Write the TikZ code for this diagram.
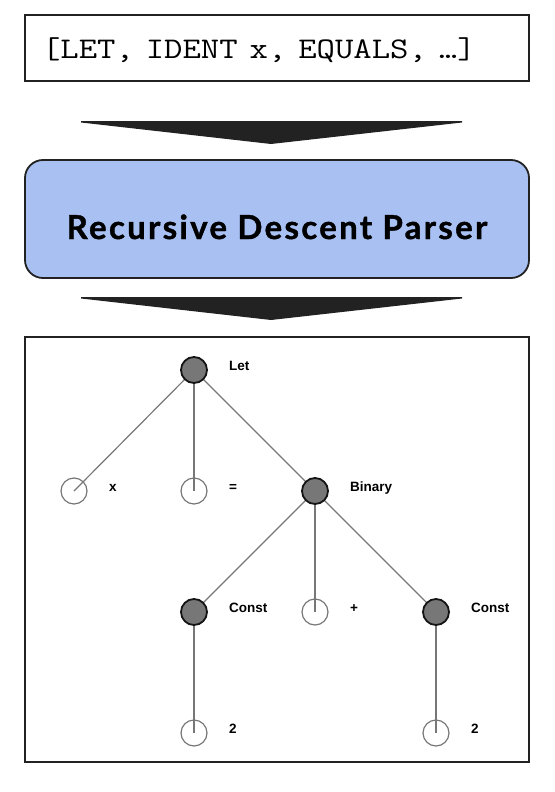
\documentclass[tikz,border=0pt]{standalone}
\usepackage{fontspec}
\usetikzlibrary{calc}
\setmainfont{Liberation Sans}
\newfontfamily\titlefont[LetterSpace=7,FakeBold=1.2]{Lato}
\definecolor{boxline}{HTML}{222222}
\definecolor{parserblue}{HTML}{A8C1F2}
\definecolor{nodefill}{HTML}{777777}
\definecolor{edgegray}{HTML}{777777}
\pgfdeclarelayer{bg}
\pgfsetlayers{bg,main}
\begin{document}
\begin{tikzpicture}[x=1pt,y=-1pt,
  tokbox/.style={draw=boxline,line width=2.2pt,minimum width=504pt,minimum height=66pt,inner sep=0pt,
    text width=470pt,align=left,
    font=\ttfamily\fontsize{30}{32}\selectfont,text height=20.6pt,text depth=0pt},
  parserbox/.style={draw=boxline,fill=parserblue,line width=1.8pt,rounded corners=18pt,
    minimum width=504pt,minimum height=118pt,inner sep=0pt,
    font=\titlefont\bfseries\fontsize{33}{35}\selectfont,text height=40pt,text depth=0pt},
  treebox/.style={draw=boxline,line width=2.4pt,minimum width=504pt,minimum height=425pt,inner sep=0pt},
  flowarrow/.style={fill=boxline,draw=none},
  lbl/.style={font=\bfseries\fontsize{13.5}{15}\selectfont,inner sep=0pt,anchor=base west},
  full/.style={circle,draw=black!92,line width=1.8pt,fill=nodefill,minimum size=26pt,inner sep=0pt,outer sep=0pt},
  empty/.style={circle,draw=edgegray,line width=1.2pt,minimum size=26pt,inner sep=0pt,outer sep=0pt},
  edge/.style={draw=edgegray,line width=1.2pt}]
\useasboundingbox (0,0) rectangle (554,792);

\node[tokbox] (tokens) at (277,48) {\scalebox{1.19}[1]{[LET, IDENT x, EQUALS, …]}};
\node[parserbox] (parser) at (277,219) {Recursive Descent Parser};
\node[treebox] (tree) at (277,549.5) {};

\coordinate (a1l) at (81,121);
\coordinate (a1r) at (462,121);
\coordinate (a1t) at (271,144);
\fill[flowarrow] (a1l) -- (a1r) -- ($(a1r)+(0,1.5)$) -- (a1t) -- ($(a1l)+(0,1.5)$) -- cycle;
\coordinate (a2l) at (81,297);
\coordinate (a2r) at (462,297);
\coordinate (a2t) at (271,320);
\fill[flowarrow] (a2l) -- (a2r) -- ($(a2r)+(0,1.5)$) -- (a2t) -- ($(a2l)+(0,1.5)$) -- cycle;

\node[full] (root) at (194,370) {};
\node[empty] (nx) at (74,491) {};
\node[empty] (neq) at (194,491) {};
\node[full] (bin) at (315,491) {};
\node[full] (c1) at (194,612) {};
\node[empty] (plus) at (315,612) {};
\node[full] (c2) at (436,612) {};
\node[empty] (two1) at (194,733) {};
\node[empty] (two2) at (436,733) {};

\node[lbl] (lroot) at ($(root.center)+(35,0)$) {Let};
\node[lbl] (lnx) at ($(nx.center)+(35,0)$) {x};
\node[lbl] (lneq) at ($(neq.center)+(35,0)$) {=};
\node[lbl] (lbin) at ($(bin.center)+(35,0)$) {Binary};
\node[lbl] (lc1) at ($(c1.center)+(35,0)$) {Const};
\node[lbl] (lplus) at ($(plus.center)+(35,0)$) {+};
\node[lbl] (lc2) at ($(c2.center)+(35,0)$) {Const};
\node[lbl] (ltwo1) at ($(two1.center)+(35,0)$) {2};
\node[lbl] (ltwo2) at ($(two2.center)+(35,0)$) {2};

\begin{pgfonlayer}{bg}
\draw[edge] (root.center) -- (nx.center);
\draw[edge] (root.center) -- (neq.center);
\draw[edge] (root.center) -- (bin.center);
\draw[edge] (bin.center) -- (c1.center);
\draw[edge] (bin.center) -- (plus.center);
\draw[edge] (bin.center) -- (c2.center);
\draw[edge] (c1.center) -- (two1.center);
\draw[edge] (c2.center) -- (two2.center);
\end{pgfonlayer}
\end{tikzpicture}
\end{document}
